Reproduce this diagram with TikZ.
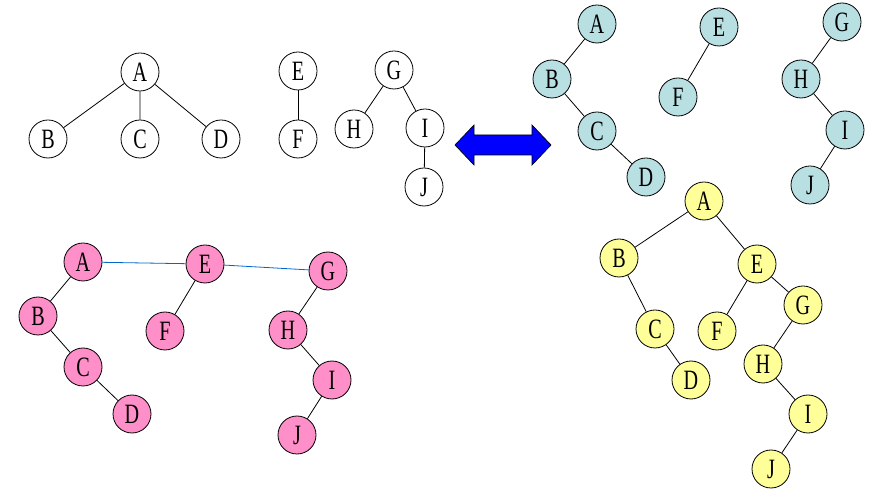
\documentclass[tikz,border=0pt]{standalone}
\usepackage{fontspec}
\usepackage{xcolor}
\usepackage{tikz}
\newfontfamily\letterfont[FakeStretch=0.72]{Liberation Serif}
\definecolor{treepink}{RGB}{255, 143, 200}
\definecolor{treeteal}{RGB}{184, 223, 226}
\definecolor{treeyellow}{RGB}{255, 255, 153}
\definecolor{linkblue}{RGB}{0, 102, 204}

\begin{document}
\begin{tikzpicture}[x=0.75pt,y=-0.75pt,
    vertex/.style={circle,draw,line width=0.6pt,minimum size=28.5pt,inner sep=0pt,font=\letterfont\fontsize{21}{21}\selectfont},
    link/.style={line width=0.6pt}]
    \useasboundingbox (0,0) rectangle (892,498);

    % Forest: three white trees
    \node[vertex] (wA) at (140,72) {A};
    \node[vertex] (wB) at (48,139) {B};
    \node[vertex] (wC) at (140,139) {C};
    \node[vertex] (wD) at (221,139) {D};
    \draw[link] (wA) -- (wB) (wA) -- (wC) (wA) -- (wD);

    \node[vertex] (wE) at (298,71) {E};
    \node[vertex] (wF) at (298,139) {F};
    \draw[link] (wE) -- (wF);

    \node[vertex] (wG) at (394,70) {G};
    \node[vertex] (wH) at (354,129) {H};
    \node[vertex] (wI) at (425,128) {I};
    \node[vertex] (wJ) at (424,187) {J};
    \draw[link] (wG) -- (wH) (wG) -- (wI) (wI) -- (wJ);

    % Two-way arrow
    \draw[fill=blue,line width=0.5pt] (455,145) -- (474,125) -- (474,135) -- (532,135) -- (532,125)
        -- (551,145) -- (532,165) -- (532,155) -- (474,155) -- (474,165) -- cycle;

    % Binary trees of each tree
    \node[vertex,fill=treeteal] (tA) at (597,24) {A};
    \node[vertex,fill=treeteal] (tB) at (552,79) {B};
    \node[vertex,fill=treeteal] (tC) at (597,131) {C};
    \node[vertex,fill=treeteal] (tD) at (646,177) {D};
    \draw[link] (tA) -- (tB) -- (tC) -- (tD);

    \node[vertex,fill=treeteal] (tE) at (719,27) {E};
    \node[vertex,fill=treeteal] (tF) at (678,97) {F};
    \draw[link] (tE) -- (tF);

    \node[vertex,fill=treeteal] (tG) at (842,22) {G};
    \node[vertex,fill=treeteal] (tH) at (801,79) {H};
    \node[vertex,fill=treeteal] (tI) at (845,130) {I};
    \node[vertex,fill=treeteal] (tJ) at (810,185) {J};
    \draw[link] (tG) -- (tH) -- (tI) -- (tJ);

    % Roots joined as siblings
    \node[vertex,fill=treepink] (pA) at (83,262) {A};
    \node[vertex,fill=treepink] (pB) at (38,316) {B};
    \node[vertex,fill=treepink] (pC) at (83,367) {C};
    \node[vertex,fill=treepink] (pD) at (132,414) {D};
    \node[vertex,fill=treepink] (pE) at (205,264) {E};
    \node[vertex,fill=treepink] (pF) at (165,331) {F};
    \node[vertex,fill=treepink] (pG) at (328,271) {G};
    \node[vertex,fill=treepink] (pH) at (288,330) {H};
    \node[vertex,fill=treepink] (pI) at (332,380) {I};
    \node[vertex,fill=treepink] (pJ) at (297,435) {J};
    \draw[link] (pA) -- (pB) -- (pC) -- (pD) (pE) -- (pF) (pG) -- (pH) -- (pI) -- (pJ);
    \draw[link,linkblue] (pA) -- (pE) -- (pG);

    % Resulting binary tree
    \node[vertex,fill=treeyellow] (yA) at (704,201) {A};
    \node[vertex,fill=treeyellow] (yB) at (619,258) {B};
    \node[vertex,fill=treeyellow] (yC) at (655,329) {C};
    \node[vertex,fill=treeyellow] (yD) at (691,380) {D};
    \node[vertex,fill=treeyellow] (yE) at (757,264) {E};
    \node[vertex,fill=treeyellow] (yF) at (717,331) {F};
    \node[vertex,fill=treeyellow] (yG) at (803,305) {G};
    \node[vertex,fill=treeyellow] (yH) at (763,364) {H};
    \node[vertex,fill=treeyellow] (yI) at (808,414) {I};
    \node[vertex,fill=treeyellow] (yJ) at (771,469) {J};
    \draw[link] (yA) -- (yB) -- (yC) -- (yD) (yA) -- (yE) -- (yF) (yE) -- (yG) -- (yH) -- (yI) -- (yJ);
\end{tikzpicture}
\end{document}
